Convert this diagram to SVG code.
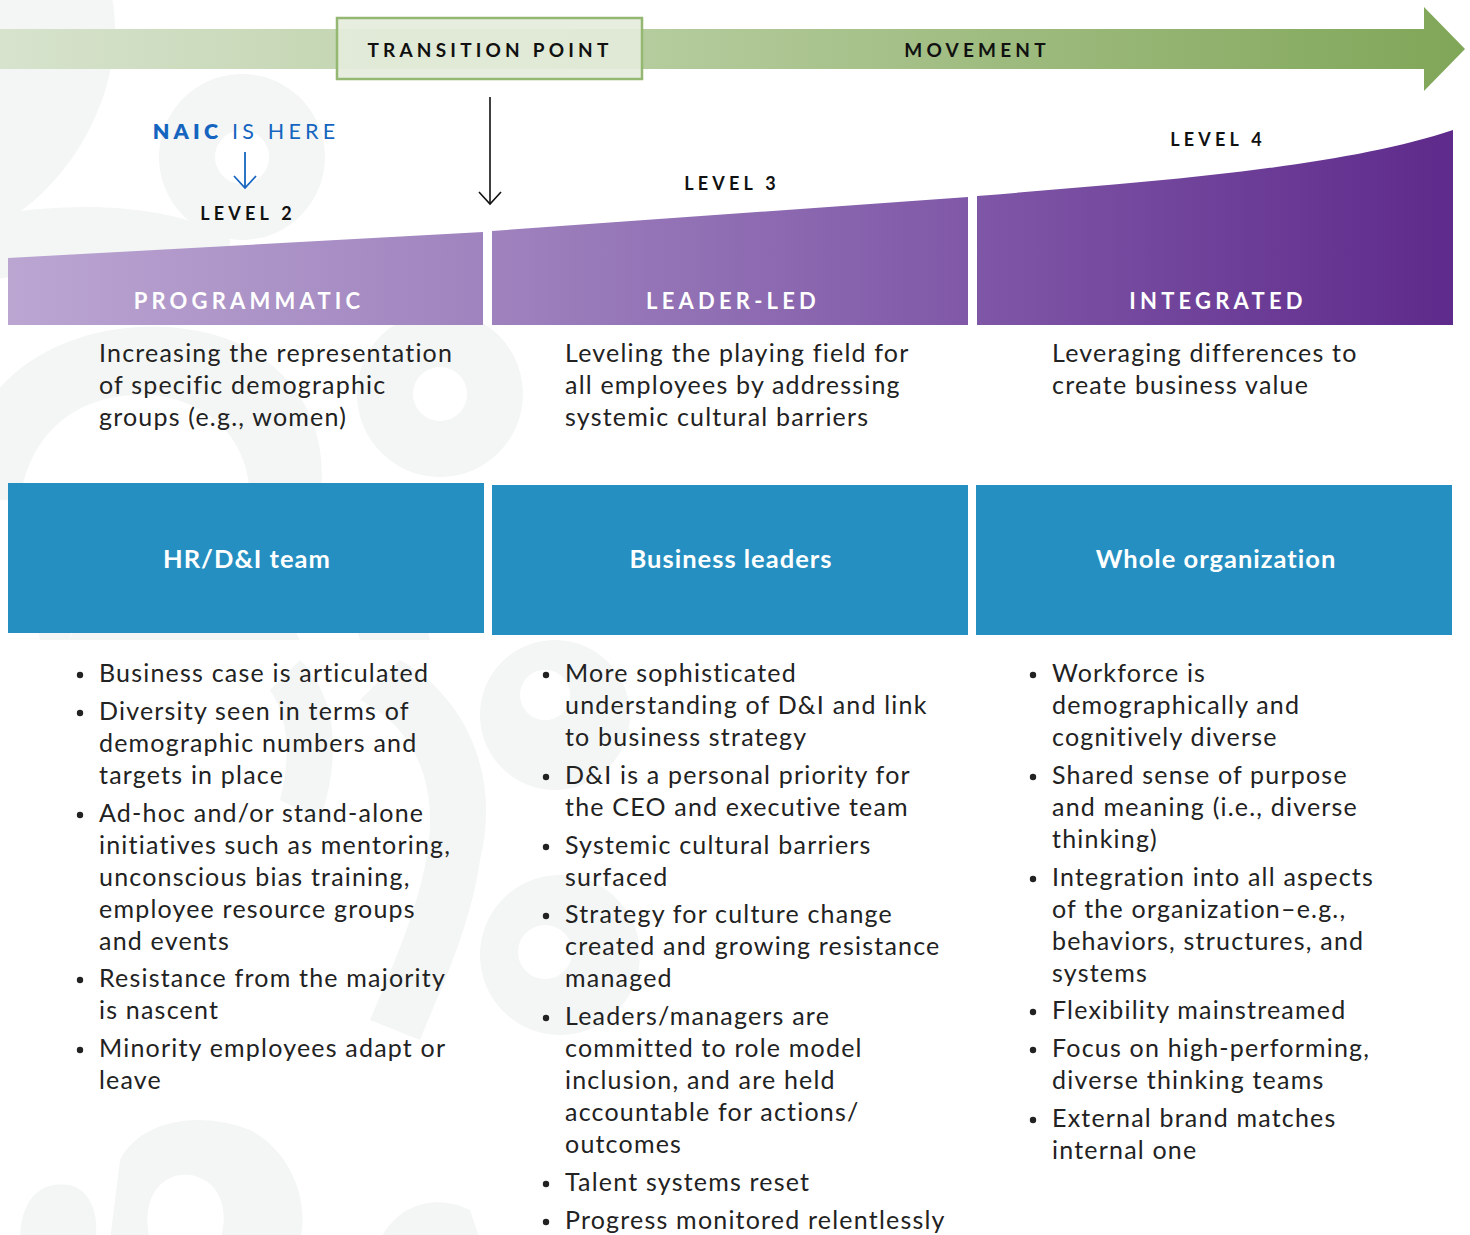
<svg xmlns="http://www.w3.org/2000/svg" width="1470" height="1235" viewBox="0 0 1470 1235">
<defs>
<linearGradient id="gArrow" gradientUnits="userSpaceOnUse" x1="0" y1="0" x2="1465" y2="0">
<stop offset="0" stop-color="#d7e3cd"/>
<stop offset="0.45" stop-color="#b4cb9c"/>
<stop offset="1" stop-color="#80a658"/>
</linearGradient>
<linearGradient id="gPurple" gradientUnits="userSpaceOnUse" x1="8" y1="0" x2="1453" y2="0">
<stop offset="0" stop-color="#bba6d2"/>
<stop offset="0.33" stop-color="#9f83be"/>
<stop offset="0.67" stop-color="#7f57a7"/>
<stop offset="1" stop-color="#5e2a8b"/>
</linearGradient>
<marker id="mBlack" markerWidth="26" markerHeight="26" refX="14" refY="12" orient="auto" markerUnits="userSpaceOnUse">
<path d="M2,1 L14,12 L2,23" fill="none" stroke="#111" stroke-width="1.6"/>
</marker>
<marker id="mBlue" markerWidth="26" markerHeight="26" refX="14" refY="12" orient="auto" markerUnits="userSpaceOnUse">
<path d="M2,1 L14,12 L2,23" fill="none" stroke="#1565c0" stroke-width="1.8"/>
</marker>
</defs>
<style>
.bg{fill:#f4f6f5}
.cap{font-family:"Lato","Liberation Sans",sans-serif;font-weight:700;letter-spacing:4.2px;text-anchor:middle}
.lvl{font-size:18px;fill:#111}
.stage{font-size:22px;letter-spacing:4.2px;fill:#ffffff}
.desc{font-family:"Lato","Liberation Sans",sans-serif;font-size:25px;letter-spacing:1.2px;fill:#222}
.body{font-family:"Lato","Liberation Sans",sans-serif;font-size:25px;letter-spacing:1.2px;fill:#222}
.who{font-family:"Lato","Liberation Sans",sans-serif;font-size:25.5px;font-weight:700;letter-spacing:1px;fill:#fff;text-anchor:middle}
.box{fill:#258fc1}
.dot{fill:#222}
</style>
<rect width="1470" height="1235" fill="#ffffff"/>
<g id="background">
<path class="bg" d="M-10,-10 L110,-10 C130,60 90,180 -10,230 Z"/>
<path class="bg" fill-rule="evenodd" d="M242,74 A83,83 0 1,1 241.9,74 Z M242,130 A27,27 0 1,0 242.1,130 Z"/>
<path class="bg" fill-rule="evenodd" d="M440,311 A83,83 0 1,1 439.9,311 Z M440,367 A27,27 0 1,0 440.1,367 Z"/>
<path class="bg" d="M-10,215 C80,200 180,205 230,240 L230,300 C160,270 60,268 -10,280 Z"/>
<path class="bg" d="M-10,400 C40,330 150,310 230,340 C300,370 330,430 320,500 L250,500 C250,440 210,400 150,395 C80,392 30,430 20,500 L-10,500 Z"/>
<path class="bg" d="M20,500 L90,500 L70,640 L40,640 Z"/>
<path class="bg" d="M70,640 C90,560 170,520 250,540 L300,640 Z"/>
<path class="bg" d="M330,500 C380,520 420,580 430,640 L360,640 C350,600 330,560 300,540 Z"/>
<path class="bg" d="M400,660 C470,700 500,780 480,860 C470,930 440,990 420,1040 L370,1020 C400,950 430,880 430,820 C430,760 400,720 360,700 Z"/>
<path class="bg" d="M300,660 C340,700 340,760 320,820 L280,800 C290,760 290,720 270,690 Z"/>
<path class="bg" d="M120,1160 C140,1120 200,1110 250,1130 C290,1150 310,1200 300,1240 L220,1240 C230,1210 220,1180 190,1175 C160,1172 140,1200 150,1240 L110,1240 Z"/>
<path class="bg" d="M20,1240 C20,1200 40,1180 70,1185 C90,1190 100,1215 95,1240 Z"/>
<path class="bg" d="M380,1240 C400,1200 440,1195 470,1210 L480,1240 Z"/>
<path class="bg" fill-rule="evenodd" d="M555,640 A75,75 0 1,1 554.9,640 Z M545,670 A25,25 0 1,0 545.1,670 Z"/>
<path class="bg" fill-rule="evenodd" d="M560,875 A80,80 0 1,1 559.9,875 Z M545,925 A27,27 0 1,0 545.1,925 Z"/>
</g>
<g id="movement-arrow">
<path d="M0,29 L1424,29 L1424,7 L1465,49 L1424,91 L1424,69 L0,69 Z" fill="url(#gArrow)"/>
<text class="cap" x="977" y="57" font-size="19" fill="#111">MOVEMENT</text>
</g>
<g id="transition-point">
<rect x="337" y="18" width="305" height="61" fill="#e4ecdc" fill-opacity="0.9" stroke="#94b872" stroke-width="2.5"/>
<text class="cap" x="490" y="57" font-size="19" letter-spacing="4" fill="#111">TRANSITION POINT</text>
</g>
<g id="naic-label">
<text class="cap" x="246" y="139" font-size="21.5" letter-spacing="5" fill="#1565c0"><tspan font-weight="800">NAIC</tspan><tspan font-weight="400"> IS HERE</tspan></text>
</g>
<g id="connectors">
<line x1="245" y1="152" x2="245" y2="188" stroke="#1565c0" stroke-width="1.8" marker-end="url(#mBlue)"/>
<line x1="490" y1="97" x2="490" y2="204" stroke="#111" stroke-width="1.6" marker-end="url(#mBlack)"/>
</g>
<g id="level2">
<text class="cap lvl" x="248" y="220">LEVEL 2</text>
<path d="M8,258 L483,232 L483,325 L8,325 Z" fill="url(#gPurple)"/>
<text class="cap stage" x="249" y="309">PROGRAMMATIC</text>
<text class="desc" x="99" y="362">Increasing the representation</text>
<text class="desc" x="99" y="394">of specific demographic</text>
<text class="desc" x="99" y="426">groups (e.g., women)</text>
</g>
<g id="level3">
<text class="cap lvl" x="732" y="190">LEVEL 3</text>
<path d="M492,231 L968,197 L968,325 L492,325 Z" fill="url(#gPurple)"/>
<text class="cap stage" x="733" y="309">LEADER-LED</text>
<text class="desc" x="565" y="362">Leveling the playing field for</text>
<text class="desc" x="565" y="394">all employees by addressing</text>
<text class="desc" x="565" y="426">systemic cultural barriers</text>
</g>
<g id="level4">
<text class="cap lvl" x="1218" y="146">LEVEL 4</text>
<path d="M977,196 C1150,182 1340,168 1453,130 L1453,325 L977,325 Z" fill="url(#gPurple)"/>
<text class="cap stage" x="1218" y="309">INTEGRATED</text>
<text class="desc" x="1052" y="362">Leveraging differences to</text>
<text class="desc" x="1052" y="394">create business value</text>
</g>
<g id="hr-team">
<rect class="box" x="8" y="483" width="476" height="150"/>
<text class="who" x="247" y="568">HR/D&amp;I team</text>
</g>
<g id="business-leaders">
<rect class="box" x="492" y="485" width="476" height="150"/>
<text class="who" x="731" y="568">Business leaders</text>
</g>
<g id="whole-org">
<rect class="box" x="976" y="485" width="476" height="150"/>
<text class="who" x="1216" y="568">Whole organization</text>
</g>
<g id="list-hr">
<circle class="dot" cx="80" cy="675" r="3.2"/>
<circle class="dot" cx="80" cy="713" r="3.2"/>
<circle class="dot" cx="80" cy="815" r="3.2"/>
<circle class="dot" cx="80" cy="980" r="3.2"/>
<circle class="dot" cx="80" cy="1050" r="3.2"/>
<text class="body" x="99" y="682">Business case is articulated</text>
<text class="body" x="99" y="720">Diversity seen in terms of</text>
<text class="body" x="99" y="752">demographic numbers and</text>
<text class="body" x="99" y="784">targets in place</text>
<text class="body" x="99" y="822">Ad-hoc and/or stand-alone</text>
<text class="body" x="99" y="854">initiatives such as mentoring,</text>
<text class="body" x="99" y="886">unconscious bias training,</text>
<text class="body" x="99" y="918">employee resource groups</text>
<text class="body" x="99" y="950">and events</text>
<text class="body" x="99" y="987">Resistance from the majority</text>
<text class="body" x="99" y="1019">is nascent</text>
<text class="body" x="99" y="1057">Minority employees adapt or</text>
<text class="body" x="99" y="1089">leave</text>
</g>
<g id="list-leaders">
<circle class="dot" cx="546" cy="675" r="3.2"/>
<circle class="dot" cx="546" cy="777" r="3.2"/>
<circle class="dot" cx="546" cy="847" r="3.2"/>
<circle class="dot" cx="546" cy="916" r="3.2"/>
<circle class="dot" cx="546" cy="1018" r="3.2"/>
<circle class="dot" cx="546" cy="1184" r="3.2"/>
<circle class="dot" cx="546" cy="1222" r="3.2"/>
<text class="body" x="565" y="682">More sophisticated</text>
<text class="body" x="565" y="714">understanding of D&amp;I and link</text>
<text class="body" x="565" y="746">to business strategy</text>
<text class="body" x="565" y="784">D&amp;I is a personal priority for</text>
<text class="body" x="565" y="816">the CEO and executive team</text>
<text class="body" x="565" y="854">Systemic cultural barriers</text>
<text class="body" x="565" y="886">surfaced</text>
<text class="body" x="565" y="923">Strategy for culture change</text>
<text class="body" x="565" y="955">created and growing resistance</text>
<text class="body" x="565" y="987">managed</text>
<text class="body" x="565" y="1025">Leaders/managers are</text>
<text class="body" x="565" y="1057">committed to role model</text>
<text class="body" x="565" y="1089">inclusion, and are held</text>
<text class="body" x="565" y="1121">accountable for actions/</text>
<text class="body" x="565" y="1153">outcomes</text>
<text class="body" x="565" y="1191">Talent systems reset</text>
<text class="body" x="565" y="1229">Progress monitored relentlessly</text>
</g>
<g id="list-org">
<circle class="dot" cx="1033" cy="675" r="3.2"/>
<circle class="dot" cx="1033" cy="777" r="3.2"/>
<circle class="dot" cx="1033" cy="879" r="3.2"/>
<circle class="dot" cx="1033" cy="1012" r="3.2"/>
<circle class="dot" cx="1033" cy="1050" r="3.2"/>
<circle class="dot" cx="1033" cy="1120" r="3.2"/>
<text class="body" x="1052" y="682">Workforce is</text>
<text class="body" x="1052" y="714">demographically and</text>
<text class="body" x="1052" y="746">cognitively diverse</text>
<text class="body" x="1052" y="784">Shared sense of purpose</text>
<text class="body" x="1052" y="816">and meaning (i.e., diverse</text>
<text class="body" x="1052" y="848">thinking)</text>
<text class="body" x="1052" y="886">Integration into all aspects</text>
<text class="body" x="1052" y="918">of the organization–e.g.,</text>
<text class="body" x="1052" y="950">behaviors, structures, and</text>
<text class="body" x="1052" y="982">systems</text>
<text class="body" x="1052" y="1019">Flexibility mainstreamed</text>
<text class="body" x="1052" y="1057">Focus on high-performing,</text>
<text class="body" x="1052" y="1089">diverse thinking teams</text>
<text class="body" x="1052" y="1127">External brand matches</text>
<text class="body" x="1052" y="1159">internal one</text>
</g>
</svg>
